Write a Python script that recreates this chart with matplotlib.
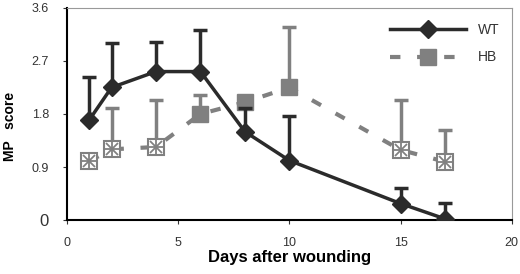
import numpy as np
import matplotlib
matplotlib.use("Agg")
import matplotlib.pyplot as plt

plt.rcParams['font.family'] = ['Liberation Sans', 'DejaVu Sans']

# data
days = [1, 2, 4, 6, 8, 10, 15, 17]
wt = [1.70, 2.25, 2.52, 2.52, 1.50, 1.01, 0.28, 0.02]
wt_err = [0.73, 0.75, 0.50, 0.71, 0.40, 0.76, 0.26, 0.27]
hb = [1.00, 1.20, 1.24, 1.80, 2.00, 2.25, 1.19, 0.99]
hb_err = [0.0, 0.70, 0.80, 0.32, 0.10, 1.03, 0.84, 0.54]
hb_open = [True, True, True, False, False, False, True, True]

dark = '#2b2b2b'
gray = '#808080'
dash = (0, (2.5, 4.0))

fig = plt.figure(figsize=(5.2, 2.74), dpi=100)
ax = fig.add_axes([0.129, 0.197, 0.855, 0.774])

# HB: dashed line, upper error bars, mixed markers
ax.plot(days, hb, color=gray, lw=3, ls=dash, zorder=2)
ax.errorbar(days, hb, yerr=[np.zeros(len(hb)), hb_err], fmt='none',
            ecolor=gray, elinewidth=2.5, capsize=5, capthick=2.5, zorder=2)
hx_open = [d for d, o in zip(days, hb_open) if o]
hy_open = [v for v, o in zip(hb, hb_open) if o]
hx_fill = [d for d, o in zip(days, hb_open) if not o]
hy_fill = [v for v, o in zip(hb, hb_open) if not o]
ax.plot(hx_open, hy_open, 's', ms=12, mfc='white', mec=gray, mew=1.5, zorder=3)
ax.plot(hx_open, hy_open, 'x', ms=8, mec=gray, mew=1.3, zorder=4)
ax.plot(hx_open, hy_open, '+', ms=10, mec=gray, mew=1.3, zorder=4)
ax.plot(hx_fill, hy_fill, 's', ms=12, mfc=gray, mec=gray, zorder=3)

# WT: solid line with diamonds
ax.errorbar(days, wt, yerr=[np.zeros(len(wt)), wt_err], fmt='none',
            ecolor=dark, elinewidth=2.5, capsize=5, capthick=2.5, zorder=5)
ax.plot(days, wt, '-D', color=dark, lw=2.5, ms=9, zorder=6)

# legend handles
ax.plot([], [], '-D', color=dark, lw=2.5, ms=9, label='WT')
ax.plot([], [], color=gray, lw=3, ls=dash, marker='s', ms=12,
        mfc=gray, mec=gray, label='HB')
h, l = ax.get_legend_handles_labels()
ax.legend(h[-2:], l[-2:], loc='upper right', frameon=False, fontsize=10,
          handlelength=5.5, labelspacing=1.0, labelcolor='#333333',
          bbox_to_anchor=(1.0, 0.99))

ax.set_xlim(0, 20)
ax.set_ylim(0, 3.6)
ax.set_xticks([0, 5, 10, 15, 20])
ax.set_yticks([0, 0.9, 1.8, 2.7, 3.6])
ax.set_yticklabels(['0', '0.9', '1.8', '2.7', '3.6'])
ax.tick_params(axis='both', labelsize=9, colors='#333333', length=3)
ax.tick_params(axis='x', pad=9)
ax.tick_params(axis='y', pad=10)
for lab in ax.get_yticklabels():
    if lab.get_text() == '0':
        lab.set_fontsize(12)

ax.spines['left'].set_linewidth(1.5)
ax.spines['bottom'].set_linewidth(1.5)
ax.spines['top'].set_color('#999999')
ax.spines['right'].set_color('#999999')

ax.set_xlabel('Days after wounding', fontsize=12, fontweight='bold', labelpad=1)
ax.set_ylabel('MP   score', fontsize=10, fontweight='bold')
ax.yaxis.set_label_coords(-0.112, 0.44)

fig.savefig('out.png', dpi=100)
